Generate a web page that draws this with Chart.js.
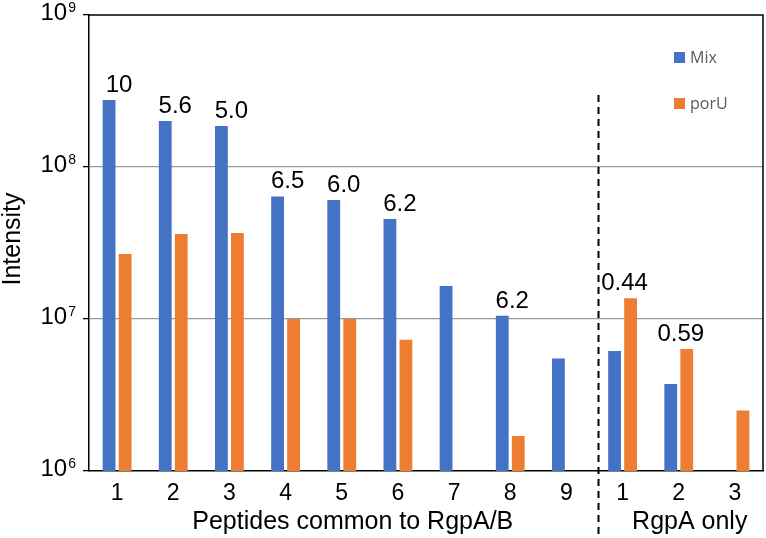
<!DOCTYPE html>
<html>
<head>
<meta charset="utf-8">
<script src="https://cdn.jsdelivr.net/npm/chart.js@4/dist/chart.umd.min.js"></script>
<style>
    html, body { margin: 0; padding: 0; background: #fff; }
    #wrap { width: 766px; height: 538px; }
</style>
</head>
<body>
<div id="wrap"><canvas id="peptide-chart" width="766" height="538"></canvas></div>
<script>
// values
const categories = ["1", "2", "3", "4", "5", "6", "7", "8", "9", "1", "2", "3"];
const mixValues = [2.76e8, 2.01e8, 1.86e8, 6.4e7, 6.07e7, 4.55e7, 1.65e7, 1.05e7, 5.5e6, 6.15e6, 3.73e6, null];
const poruValues = [2.68e7, 3.62e7, 3.68e7, 1.0e7, 1.0e7, 7.3e6, null, 1.7e6, null, 1.37e7, 6.35e6, 2.5e6];
const ratioLabels = ["10", "5.6", "5.0", "6.5", "6.0", "6.2", "", "6.2", "", "0.44", "0.59", ""];
const yTickValues = [1e6, 1e7, 1e8, 1e9];
const groupLabels = ["Peptides common to RgpA/B", "RgpA only"];
const groupFirst = [0, 9];
const groupLast = [8, 11];

const FONT = "'Liberation Sans', Arial, sans-serif";
const BLUE = "#4472C4";
const ORANGE = "#ED7D31";

const extras = {
    id: "extras",
    afterDraw(chart) {
        const { ctx, chartArea: area, scales: { x, y } } = chart;
        ctx.save();

        // frame on top and right
        ctx.strokeStyle = "#000";
        ctx.lineWidth = 1.5;
        ctx.beginPath();
        ctx.moveTo(area.left, area.top);
        ctx.lineTo(area.right, area.top);
        ctx.lineTo(area.right, area.bottom);
        ctx.stroke();

        // y tick labels as 10 with exponent
        ctx.fillStyle = "#000";
        yTickValues.forEach((v) => {
            const py = y.getPixelForValue(v);
            const exp = String(Math.round(Math.log10(v)));
            ctx.font = `14px ${FONT}`;
            ctx.textAlign = "right";
            ctx.textBaseline = "alphabetic";
            const ew = ctx.measureText(exp).width;
            ctx.fillText(exp, 76, py - 3);
            ctx.font = `24px ${FONT}`;
            ctx.textBaseline = "middle";
            ctx.fillText("10", 76 - ew - 1, py - 2);
        });

        // ratio labels over each pair
        ctx.font = `24px ${FONT}`;
        ctx.textAlign = "center";
        ctx.textBaseline = "alphabetic";
        ratioLabels.forEach((txt, i) => {
            if (!txt) return;
            const top = Math.max(mixValues[i] || 0, poruValues[i] || 0);
            ctx.fillText(txt, x.getPixelForValue(i) + 2, y.getPixelForValue(top) - 8);
        });

        // group labels under the axis
        ctx.font = `25px ${FONT}`;
        ctx.textBaseline = "middle";
        groupLabels.forEach((txt, g) => {
            const cx = (x.getPixelForValue(groupFirst[g]) + x.getPixelForValue(groupLast[g])) / 2 + 11;
            ctx.fillText(txt, cx, 522);
        });

        // dashed divider between the two groups
        const dx = (x.getPixelForValue(groupLast[0]) + x.getPixelForValue(groupFirst[1])) / 2 + 4;
        ctx.setLineDash([7, 5]);
        ctx.lineWidth = 2;
        ctx.beginPath();
        ctx.moveTo(dx, 95);
        ctx.lineTo(dx, 536);
        ctx.stroke();
        ctx.setLineDash([]);

        // legend
        const legend = [["Mix", BLUE, 57], ["porU", ORANGE, 103]];
        ctx.font = `16px 'Open Sans', sans-serif`;
        ctx.textAlign = "left";
        legend.forEach(([name, color, ly]) => {
            ctx.fillStyle = color;
            ctx.fillRect(674, ly - 5, 11, 11);
            ctx.fillStyle = "#595959";
            ctx.fillText(name, 690, ly + 1);
        });

        // axis title
        ctx.fillStyle = "#000";
        ctx.font = `25px ${FONT}`;
        ctx.translate(13, 239);
        ctx.rotate(-Math.PI / 2);
        ctx.textAlign = "center";
        ctx.fillText("Intensity", 0, 0);

        ctx.restore();
    }
};

const ctx = document.getElementById("peptide-chart").getContext("2d");
const chart = new Chart(ctx, {
    type: "bar",
    data: {
        labels: categories,
        datasets: [{
            label: "Mix",
            data: mixValues,
            backgroundColor: BLUE,
            categoryPercentage: 0.57,
            barPercentage: 0.8,
        }, {
            label: "porU",
            data: poruValues,
            backgroundColor: ORANGE,
            categoryPercentage: 0.57,
            barPercentage: 0.8,
        }]
    },
    options: {
        responsive: false,
        animation: false,
        layout: {
            autoPadding: false,
            padding: { top: 15, right: 3, left: 0, bottom: 0 },
        },
        scales: {
            x: {
                grid: { display: false, drawTicks: false },
                border: { color: "#000", width: 1.5 },
                ticks: {
                    color: "#000",
                    font: { family: FONT, size: 23 },
                    padding: 9,
                    maxRotation: 0,
                    autoSkip: false,
                },
                afterFit: (scale) => { scale.height = 67; },
            },
            y: {
                type: "logarithmic",
                min: 1e6,
                max: 1e9,
                afterBuildTicks: (scale) => {
                    scale.ticks = yTickValues.map((v) => ({ value: v }));
                },
                ticks: { display: false },
                grid: {
                    color: (c) => (c.tick && (c.tick.value === 1e7 || c.tick.value === 1e8)) ? "#9a9a9a" : "rgba(0,0,0,0)",
                    lineWidth: 1.3,
                    tickColor: "#000",
                    tickLength: 6,
                },
                border: { color: "#000", width: 1.5 },
                afterFit: (scale) => { scale.width = 89; },
            }
        },
        plugins: {
            legend: { display: false },
            tooltip: { enabled: false },
        },
    },
    plugins: [extras],
});
</script>
</body>
</html>
